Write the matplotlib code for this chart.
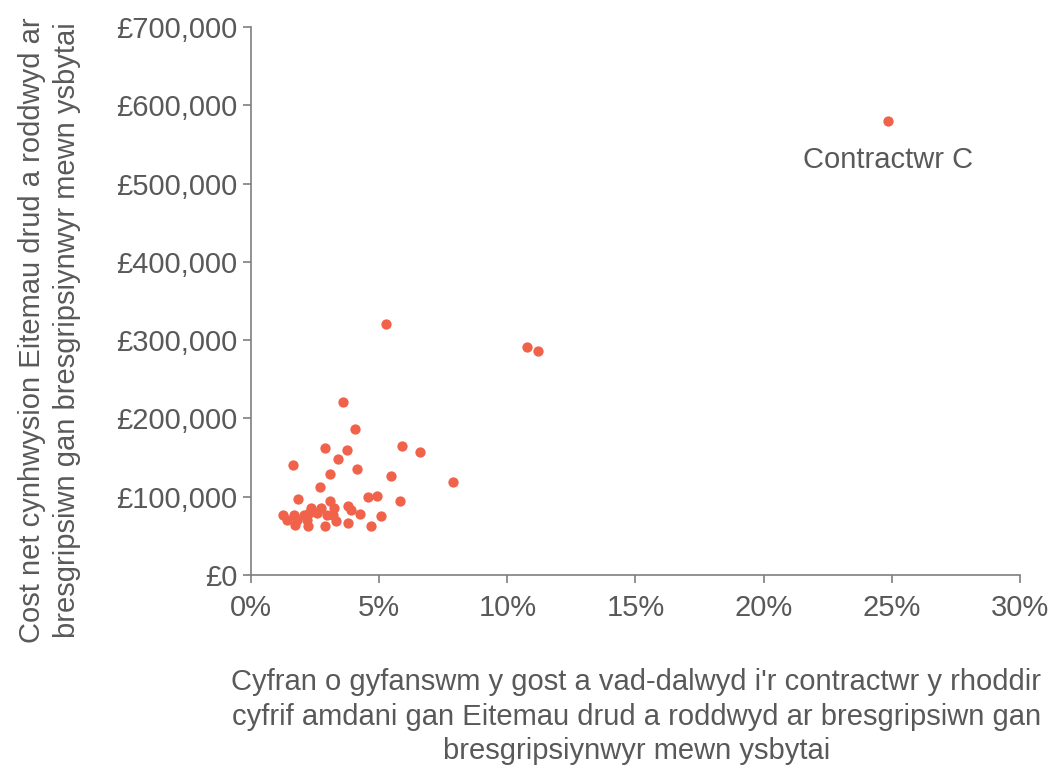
import matplotlib
matplotlib.use('Agg')
import matplotlib.pyplot as plt
from matplotlib.ticker import FuncFormatter

# share of total cost (%) and net cost (GBP) per contractor
share_pct = [3.59, 4.06, 2.88, 3.75, 3.38, 1.63, 4.15, 3.07, 5.90, 6.58,
             5.45, 7.87, 2.70, 1.83, 3.07, 4.56, 4.93, 5.81, 3.80, 3.90,
             3.23, 4.26, 5.08, 2.72, 2.33, 2.59, 2.95, 3.19, 3.33, 3.80,
             4.68, 2.88, 2.24, 1.73, 1.39, 1.26, 1.68, 2.08, 2.27, 2.17,
             1.78, 5.27, 10.77, 11.18, 24.85]
net_cost = [221400, 186100, 162200, 159300, 147800, 140500, 135800, 128600, 164400, 157500,
            126800, 118800, 112000, 96700, 94900, 100000, 101300, 94900, 88500, 83400,
            85200, 77900, 75000, 85600, 85600, 79600, 77000, 77000, 69400, 66400,
            63000, 63000, 62600, 64300, 70300, 76600, 76600, 76600, 78800, 70300,
            70300, 320600, 291200, 286100, 579900]

label_text = 'Contractwr C'
label_idx = len(share_pct) - 1

x_ticks = [0, 5, 10, 15, 20, 25, 30]
y_ticks = [0, 100000, 200000, 300000, 400000, 500000, 600000, 700000]

x_title = ("Cyfran o gyfanswm y gost a vad-dalwyd i'r contractwr y rhoddir\n"
           "cyfrif amdani gan Eitemau drud a roddwyd ar bresgripsiwn gan\n"
           "bresgripsiynwyr mewn ysbytai")
y_title = ("Cost net cynhwysion Eitemau drud a roddwyd ar\n"
           "bresgripsiwn gan bresgripsiynwyr mewn ysbytai")

plt.rcParams['font.family'] = ['Liberation Sans', 'DejaVu Sans']
text_col = '#595959'
dot_col = '#F0634A'
fs = 21

fig = plt.figure(figsize=(10.55, 7.65), dpi=100)
ax = fig.add_axes([0.2379, 0.2484, 0.7289, 0.7163])

ax.scatter(share_pct, net_cost, s=55, color=dot_col, linewidths=0, zorder=3)
ax.annotate(label_text, (share_pct[label_idx], net_cost[label_idx]),
            xytext=(0, -28), textcoords='offset points', ha='center', va='center',
            fontsize=fs, color=text_col)

ax.set_xlim(0, 30)
ax.set_ylim(0, 700000)
ax.set_xticks(x_ticks)
ax.set_yticks(y_ticks)
ax.xaxis.set_major_formatter(FuncFormatter(lambda v, p: f'{v:.0f}%'))
ax.yaxis.set_major_formatter(FuncFormatter(lambda v, p: f'£{v:,.0f}'))

for side in ['top', 'right']:
    ax.spines[side].set_visible(False)
for side in ['left', 'bottom']:
    ax.spines[side].set_color('#7f7f7f')
    ax.spines[side].set_linewidth(1.2)
ax.tick_params(axis='both', colors='#7f7f7f', length=6, width=1.2,
               labelsize=fs, labelcolor=text_col, pad=4)
ax.tick_params(axis='x', pad=8)

fig.text(0.603, 0.063, x_title, ha='center', va='center', fontsize=fs,
         color=text_col, linespacing=1.3)
fig.text(0.047, 0.569, y_title, ha='center', va='center', fontsize=fs,
         color=text_col, rotation=90, linespacing=1.3)

plt.savefig('out.png', dpi=100)
